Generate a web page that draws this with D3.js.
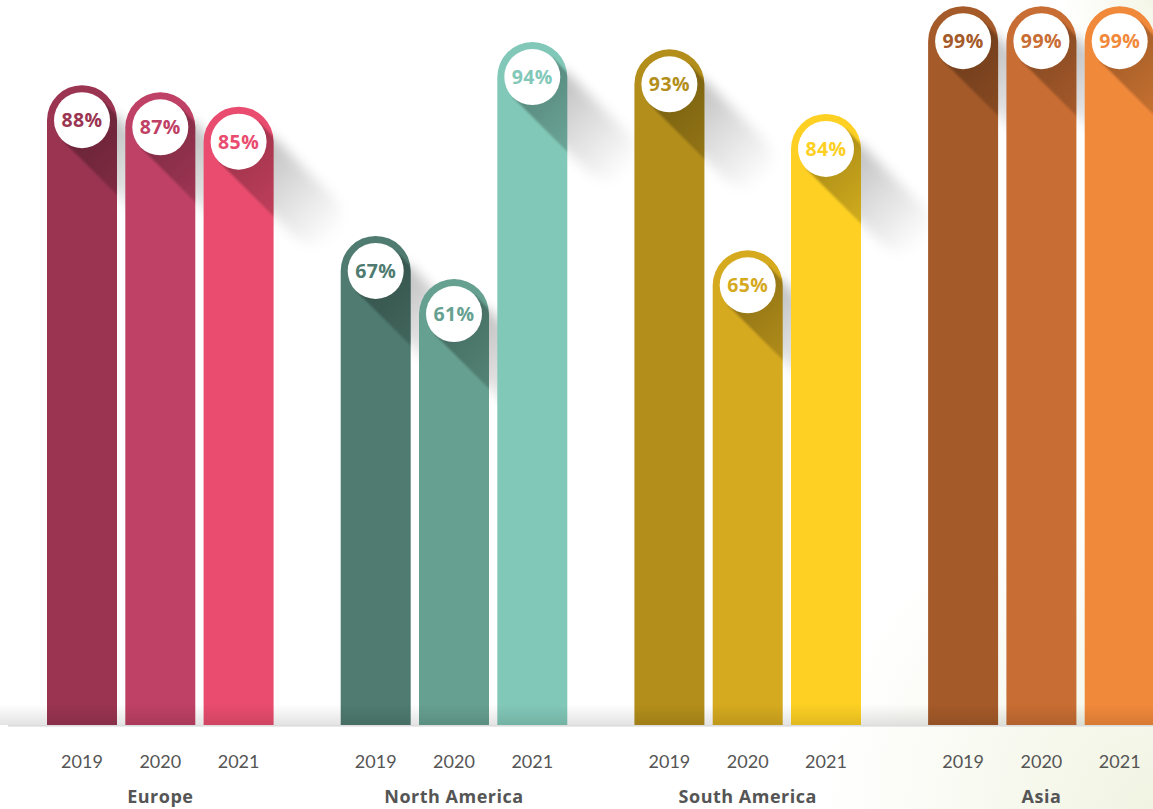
<!DOCTYPE html>
<html><head><meta charset="utf-8">
<script src="https://cdn.jsdelivr.net/npm/d3@7"></script>
<style>html,body{margin:0;padding:0;background:#fff;overflow:hidden}</style>
</head><body>
<svg id="chart" width="1153" height="809"></svg>
<script>
// ---- data ----
const regions = ["Europe", "North America", "South America", "Asia"];
const years = ["2019", "2020", "2021"];
const europeValues = [88, 87, 85];
const northAmericaValues = [67, 61, 94];
const southAmericaValues = [93, 65, 84];
const asiaValues = [99, 99, 99];
const europeColors = ["#9a3451", "#bf4165", "#e94c6e"];
const northAmericaColors = ["#4f7b70", "#66a090", "#82c8b8"];
const southAmericaColors = ["#b38e1a", "#d6aa1f", "#fdd023"];
const asiaColors = ["#a55a29", "#c86d33", "#f1893b"];

const seriesValues = [europeValues, northAmericaValues, southAmericaValues, asiaValues];
const seriesColors = [europeColors, northAmericaColors, southAmericaColors, asiaColors];

const data = [];
regions.forEach((r, i) => years.forEach((yr, j) => data.push({
  region: r, year: yr, value: seriesValues[i][j], color: seriesColors[i][j], id: i * 3 + j
})));

// ---- layout ----
const W = 1153, H = 809, baseY = 725;
const svg = d3.select("#chart");
const defs = svg.append("defs");

const x0 = d3.scaleBand().domain(regions).range([47, 1154.7]).paddingInner(0.2285).paddingOuter(0);
const x1 = d3.scaleBand().domain(years).range([0, x0.bandwidth()]).paddingInner(0.106);
const y = d3.scaleLinear().domain([0, 100]).range([717, -1]);

// background cream glow
const bg = defs.append("radialGradient").attr("id", "bgGlow")
  .attr("gradientUnits", "userSpaceOnUse").attr("cx", 1153).attr("cy", 809).attr("r", 330);
bg.append("stop").attr("offset", 0).attr("stop-color", "#f1f4e2");
bg.append("stop").attr("offset", 1).attr("stop-color", "#ffffff");
svg.append("rect").attr("width", W).attr("height", H).attr("fill", "#fff");
svg.append("rect").attr("width", W).attr("height", H).attr("fill", "url(#bgGlow)");
const bg2 = defs.append("radialGradient").attr("id", "bgGlow2")
  .attr("gradientUnits", "userSpaceOnUse").attr("cx", 1153).attr("cy", 0).attr("r", 90);
bg2.append("stop").attr("offset", 0).attr("stop-color", "#f3f6e6");
bg2.append("stop").attr("offset", 1).attr("stop-color", "#f3f6e6").attr("stop-opacity", 0);
svg.append("rect").attr("width", W).attr("height", H).attr("fill", "url(#bgGlow2)");

// gradients & filters
const gA = defs.append("linearGradient").attr("id", "shA").attr("x1", 0).attr("x2", 1).attr("y1", 0).attr("y2", 0);
gA.append("stop").attr("offset", 0).attr("stop-color", "#000").attr("stop-opacity", 0.32);
gA.append("stop").attr("offset", 0.55).attr("stop-color", "#000").attr("stop-opacity", 0.16);
gA.append("stop").attr("offset", 1).attr("stop-color", "#000").attr("stop-opacity", 0);
const gB = defs.append("linearGradient").attr("id", "shB").attr("x1", 0).attr("x2", 1).attr("y1", 0).attr("y2", 0);
gB.append("stop").attr("offset", 0).attr("stop-color", "#000").attr("stop-opacity", 0.3);
gB.append("stop").attr("offset", 0.5).attr("stop-color", "#000").attr("stop-opacity", 0.14);
gB.append("stop").attr("offset", 1).attr("stop-color", "#000").attr("stop-opacity", 0);
defs.append("filter").attr("id", "blur").attr("x", "-50%").attr("y", "-50%").attr("width", "200%").attr("height", "200%")
  .append("feGaussianBlur").attr("stdDeviation", 6);
defs.append("filter").attr("id", "blurS").attr("x", "-20%").attr("y", "-20%").attr("width", "140%").attr("height", "140%")
  .append("feGaussianBlur").attr("stdDeviation", 1);

const bw = x1.bandwidth();
const R = 28, L = 135;
const barX = d => x0(d.region) + x1(d.year);
const cxOf = d => barX(d) + bw / 2;
const cyOf = d => y(d.value) + bw / 2;
function barPath(d) {
  const x = barX(d), top = y(d.value), r = bw / 2;
  return `M${x},${baseY}L${x},${top + r}A${r},${r} 0 0 1 ${x + bw},${top + r}L${x + bw},${baseY}Z`;
}

// clip paths
defs.selectAll("clipPath.bar").data(data).join("clipPath").attr("class", "bar")
  .attr("id", d => "clip" + d.id).append("path").attr("d", barPath);

// blurred background shadows
svg.append("g").selectAll("g").data(data).join("g")
  .attr("transform", d => `translate(${cxOf(d)},${cyOf(d)}) rotate(45)`)
  .append("rect").attr("x", 0).attr("y", -R).attr("width", L).attr("height", 2 * R)
  .attr("rx", R).attr("fill", "url(#shB)").attr("filter", "url(#blur)");

// bars
svg.append("g").selectAll("path").data(data).join("path")
  .attr("d", barPath).attr("fill", d => d.color);

// shadows on bars
svg.append("g").selectAll("g").data(data).join("g")
  .attr("clip-path", d => `url(#clip${d.id})`)
  .append("g").attr("transform", d => `translate(${cxOf(d)},${cyOf(d)}) rotate(45)`)
  .append("rect").attr("x", 0).attr("y", -R).attr("width", L + 20).attr("height", 2 * R)
  .attr("fill", "url(#shA)").attr("filter", "url(#blurS)");

// bottom shade
const gBot = defs.append("linearGradient").attr("id", "bot").attr("x1", 0).attr("x2", 0).attr("y1", 0).attr("y2", 1);
gBot.append("stop").attr("offset", 0).attr("stop-color", "#000").attr("stop-opacity", 0);
gBot.append("stop").attr("offset", 1).attr("stop-color", "#000").attr("stop-opacity", 0.11);
svg.append("rect").attr("x", 0).attr("y", 704).attr("width", W).attr("height", baseY - 704).attr("fill", "url(#bot)");
svg.append("rect").attr("x", 8).attr("y", baseY).attr("width", W - 8).attr("height", 1.6).attr("fill", "#dcdcdc");

// circles + labels
svg.append("g").selectAll("circle").data(data).join("circle")
  .attr("cx", cxOf).attr("cy", cyOf).attr("r", R).attr("fill", "#fff");
svg.append("g").selectAll("text").data(data).join("text")
  .attr("x", cxOf).attr("y", d => cyOf(d) + 7)
  .attr("text-anchor", "middle")
  .attr("font-family", "'Open Sans', sans-serif").attr("font-weight", 700).attr("font-size", 19.5)
  .attr("letter-spacing", 0.4)
  .attr("fill", d => d.color)
  .text(d => d.value + "%");

// year labels
svg.append("g").selectAll("text").data(data).join("text")
  .attr("x", cxOf).attr("y", 768)
  .attr("text-anchor", "middle")
  .attr("font-family", "Lato, sans-serif").attr("font-weight", 400).attr("font-size", 18)
  .attr("fill", "#555")
  .text(d => d.year);

// region labels
svg.append("g").selectAll("text").data(regions).join("text")
  .attr("x", d => x0(d) + x0.bandwidth() / 2).attr("y", 803)
  .attr("text-anchor", "middle")
  .attr("font-family", "'Open Sans', sans-serif").attr("font-weight", 700).attr("font-size", 18)
  .attr("letter-spacing", 0.5)
  .attr("fill", "#555")
  .text(d => d);
</script>
</body></html>
